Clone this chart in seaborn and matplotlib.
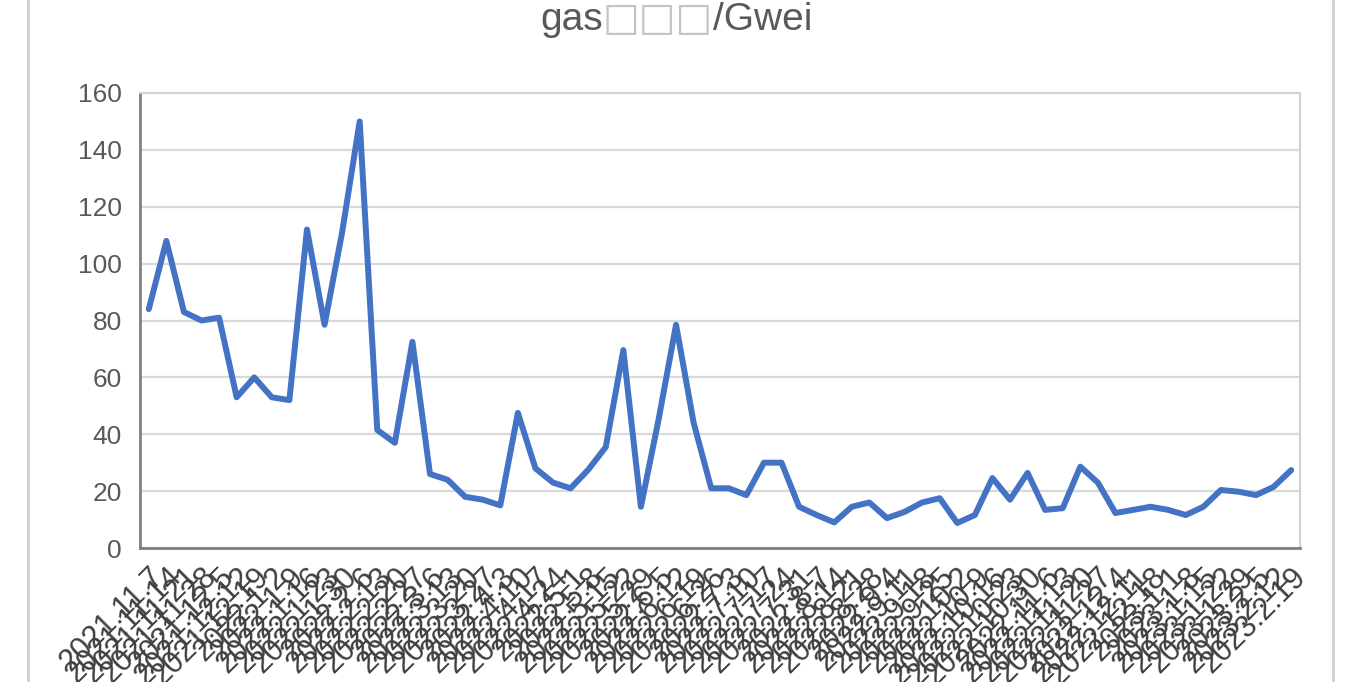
import numpy as np
import pandas as pd
import matplotlib.pyplot as plt
from matplotlib.lines import Line2D
import seaborn as sns

dates = ['2021.11.7', '2021.11.14', '2021.11.21', '2021.11.28', '2021.12.5',
         '2021.12.12', '2021.12.19', '2022.1.2', '2022.1.9', '2022.1.16',
         '2022.1.23', '2022.1.30', '2022.2.6', '2022.2.13', '2022.2.20',
         '2022.2.27', '2022.3.6', '2022.3.13', '2022.3.20', '2022.3.27',
         '2022.4.3', '2022.4.10', '2022.4.17', '2022.4.24', '2022.5.1',
         '2022.5.8', '2022.5.15', '2022.5.22', '2022.5.29', '2022.6.5',
         '2022.6.12', '2022.6.19', '2022.6.26', '2022.7.3', '2022.7.10',
         '2022.7.17', '2022.7.24', '2022.7.31', '2022.8.7', '2022.8.14',
         '2022.8.21', '2022.8.28', '2022.9.4', '2022.9.11', '2022.9.18',
         '2022.9.25', '2022.10.2', '2022.10.9', '2022.10.16', '2022.10.23',
         '2022.10.30', '2022.11.6', '2022.11.13', '2022.11.20', '2022.11.27',
         '2022.12.4', '2022.12.11', '2022.12.18', '2023.1.1', '2023.1.8',
         '2023.1.15', '2023.1.22', '2023.1.29', '2023.2.5', '2023.2.12',
         '2023.2.19']

gas = [84, 108, 83, 80, 81, 53, 60, 53, 52, 112,
       78.5, 111, 150, 41.5, 37, 72.5, 26, 24, 18, 17,
       15, 47.5, 28, 23, 21, 27.5, 35.5, 69.6, 14.5, 45,
       78.5, 44, 21, 21, 18.6, 30, 30, 14.5, 11.6, 9,
       14.5, 16, 10.5, 12.7, 16, 17.5, 8.8, 11.6, 24.6, 17,
       26.4, 13.4, 14, 28.6, 23, 12.3, 13.4, 14.5, 13.4, 11.6,
       14.5, 20.4, 19.8, 18.6, 21.5, 27.4]

yticks = [0, 20, 40, 60, 80, 100, 120, 140, 160]

sns.set_style('white')
plt.rcParams['font.family'] = ['Liberation Sans', 'DejaVu Sans']

df = pd.DataFrame({'pos': np.arange(len(gas)), 'gas': gas})

fig = plt.figure(figsize=(13.66, 6.82), dpi=100)
ax = fig.add_axes([140 / 1366, 1 - 548 / 682, 1160 / 1366, 455 / 682])

sns.lineplot(data=df, x='pos', y='gas', ax=ax, color='#4472C4', linewidth=4.3)

ax.set_xlim(-0.5, len(gas) - 0.5)
ax.set_ylim(0, 160)
ax.set_yticks(yticks)
ax.yaxis.grid(True, color='#d9d9d9', linewidth=1.6)
ax.set_axisbelow(True)
ax.set_xticks(df['pos'])
ax.set_xticklabels(dates, rotation=45, ha='right', rotation_mode='anchor', fontsize=22)
ax.tick_params(axis='y', labelsize=19, colors='#595959', length=0, pad=13)
ax.tick_params(axis='x', colors='#595959', length=0, pad=10)
for lbl in ax.get_xticklabels():
    lbl.set_color('#404040')
ax.set_xlabel('')
ax.set_ylabel('')

for side in ['top', 'right']:
    ax.spines[side].set_color('#d0d0d0')
    ax.spines[side].set_linewidth(1.5)
for side in ['left', 'bottom']:
    ax.spines[side].set_color('#808080')
    ax.spines[side].set_linewidth(2)

# chart area border
fig.add_artist(Line2D([28 / 1366, 28 / 1366], [0, 1], color='#d0d0d0', linewidth=2))
fig.add_artist(Line2D([1333 / 1366, 1333 / 1366], [0, 1], color='#d0d0d0', linewidth=2))

# title: the CJK part shows as empty boxes in the source
t1 = fig.text(540 / 1366, 1 - 38 / 682, 'gas', ha='left', va='bottom',
              fontsize=28, color='#595959')
t2 = ax.annotate('\u25a1\u25a1\u25a1', xy=(1, 0), xycoords=t1, ha='left', va='bottom',
                 fontsize=28, color='#c4c4c4', family='DejaVu Sans')
t3 = ax.annotate('/Gwei', xy=(1, 0), xycoords=t2, ha='left', va='bottom',
                 fontsize=28, color='#595959')

fig.savefig('out.png', dpi=100)
